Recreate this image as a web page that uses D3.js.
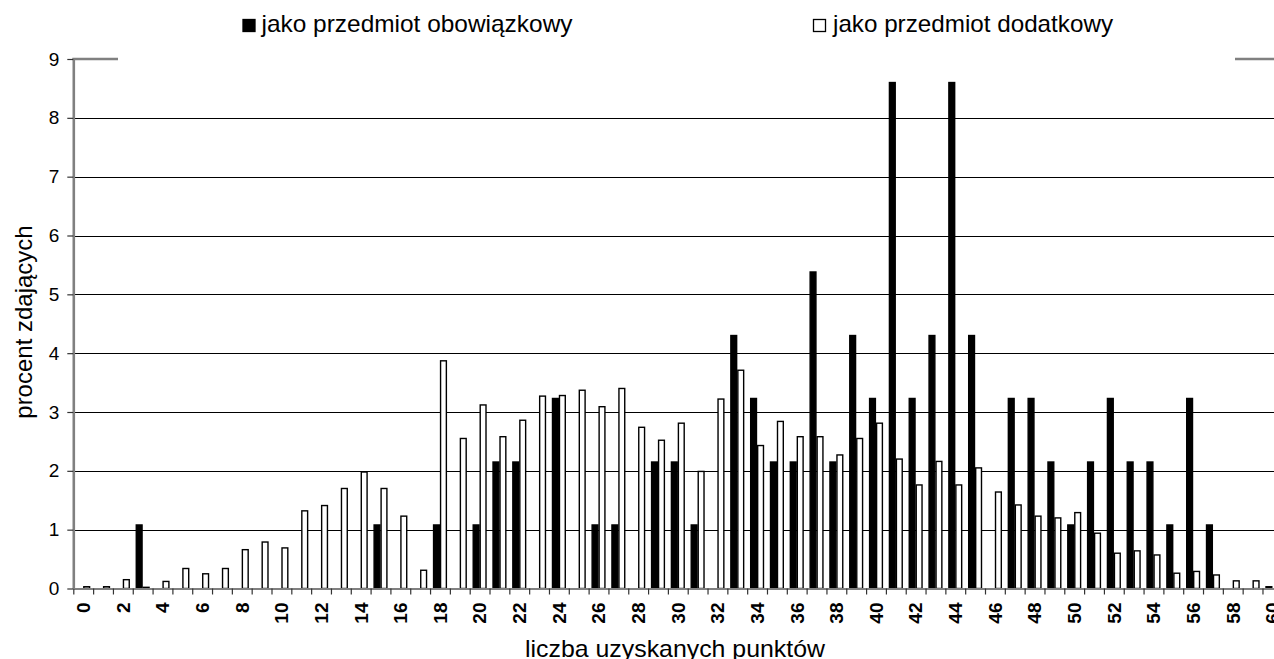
<!DOCTYPE html>
<html>
<head>
<meta charset="utf-8">
<script src="https://cdn.jsdelivr.net/npm/d3@7"></script>
<style>
  html, body { margin: 0; padding: 0; background: #fff; overflow: hidden; }
  svg { display: block; font-family: "Liberation Sans", Arial, sans-serif; }
</style>
</head>
<body>
<svg id="chart" width="1274" height="659"></svg>
<script>
// ---- data ----
const categories = [0,1,2,3,4,5,6,7,8,9,10,11,12,13,14,15,16,17,18,19,20,21,22,23,24,25,26,27,28,29,30,
  31,32,33,34,35,36,37,38,39,40,41,42,43,44,45,46,47,48,49,50,51,52,53,54,55,56,57,58,59,60];
const seriesNames = ["jako przedmiot obowiązkowy", "jako przedmiot dodatkowy"];
const obowiazkowy = [0,0,0,1.08,0,0,0,0,0,0,0,0,0,0,0,1.08,0,0,1.08,0,1.08,2.15,2.15,0,3.23,0,1.08,1.08,0,2.15,2.15,
  1.08,0,4.30,3.23,2.15,2.15,5.38,2.15,4.30,3.23,8.60,3.23,4.30,8.60,4.30,0,3.23,3.23,2.15,1.08,2.15,3.23,2.15,2.15,1.08,3.23,1.08,0,0,0.03];
const dodatkowy = [0.03,0.03,0.15,0.02,0.12,0.34,0.25,0.34,0.66,0.79,0.69,1.32,1.41,1.70,1.98,1.70,1.23,0.31,3.87,2.55,3.12,2.58,2.86,3.27,3.28,3.37,3.09,3.40,2.74,2.52,2.81,
  1.99,3.22,3.71,2.43,2.84,2.58,2.58,2.27,2.55,2.81,2.20,1.76,2.16,1.76,2.05,1.64,1.42,1.23,1.20,1.29,0.94,0.60,0.64,0.57,0.26,0.29,0.23,0.13,0.13,0];
const yTicks = [0,1,2,3,4,5,6,7,8,9];
const xTickLabels = [0,2,4,6,8,10,12,14,16,18,20,22,24,26,28,30,32,34,36,38,40,42,44,46,48,50,52,54,56,58,60];
const yTitle = "procent zdających";
const xTitle = "liczba uzyskanych punktów";

// ---- layout ----
const svg = d3.select("#chart");
const plotL = 73.3, plotR = 1282.3, plotT = 59, plotB = 588.5;
const x = d3.scaleBand().domain(categories).range([plotL, plotR]).padding(0);
const xEdge = d3.scaleLinear().domain([0, categories.length]).range([plotL, plotR]);
const y = d3.scaleLinear().domain([0, 9]).range([plotB, plotT]);
const barW = 7;
const series = d3.scaleBand().domain(seriesNames).range([0, barW * 2]);

// gridlines
svg.append("g").selectAll("line").data(yTicks.filter(d => d > 0 && d < 9)).join("line")
  .attr("x1", plotL).attr("x2", 1274)
  .attr("y1", d => Math.round(y(d)) + 0.5).attr("y2", d => Math.round(y(d)) + 0.5)
  .attr("stroke", "#000").attr("stroke-width", 1);

// top border fragments (grey)
const topBorder = [[plotL - 1, 118], [1235, 1274]];
svg.append("g").selectAll("line").data(topBorder).join("line")
  .attr("x1", d => d[0]).attr("x2", d => d[1])
  .attr("y1", y(9)).attr("y2", y(9))
  .attr("stroke", "#808080").attr("stroke-width", 2.6);

// bars
const rows = categories.map((c, i) => ({ c, vals: [obowiazkowy[i], dodatkowy[i]] }));
const groups = svg.append("g").selectAll("g").data(rows).join("g")
  .attr("transform", d => `translate(${x(d.c) + x.bandwidth() / 2 - barW},0)`);
groups.selectAll("rect")
  .data(d => d.vals.map((v, k) => ({ v, k })).filter(e => e.v > 0))
  .join("rect")
  .attr("x", e => series(seriesNames[e.k]) + 0.6)
  .attr("width", series.bandwidth() - 1.2)
  .attr("y", e => y(e.v))
  .attr("height", e => y(0) - y(e.v))
  .attr("fill", e => e.k === 0 ? "#000" : "#fff")
  .attr("stroke", "#000")
  .attr("stroke-width", 1.4);

// x axis: boundary ticks
const xTickG = svg.append("g").attr("transform", `translate(0,${plotB})`)
  .call(d3.axisBottom(xEdge).tickValues(d3.range(0, categories.length + 1)).tickSize(6).tickSizeOuter(0).tickFormat(""));
xTickG.select(".domain").attr("stroke", "#808080").attr("stroke-width", 2.2);
xTickG.selectAll(".tick line").attr("stroke", "#333").attr("stroke-width", 1.2);

// x axis labels
const xLab = svg.append("g").attr("transform", `translate(0,${plotB})`)
  .call(d3.axisBottom(x).tickValues(xTickLabels).tickSize(0));
xLab.select(".domain").remove();
xLab.selectAll("text")
  .attr("transform", "rotate(-90)")
  .attr("x", -14).attr("y", 0).attr("dy", "0.36em")
  .attr("text-anchor", "end")
  .attr("font-size", 19).attr("font-weight", "bold")
  .attr("font-family", '"Liberation Sans", Arial, sans-serif')
  .attr("fill", "#000");

// y axis
const yAx = svg.append("g").attr("transform", `translate(${plotL},0)`)
  .call(d3.axisLeft(y).tickValues(yTicks).tickSize(6).tickPadding(8).tickSizeOuter(0));
yAx.select(".domain").attr("stroke", "#808080").attr("stroke-width", 2.6);
yAx.selectAll(".tick line").attr("stroke", "#333").attr("stroke-width", 1.2);
yAx.selectAll("text").attr("font-size", 19)
  .attr("font-family", '"Liberation Sans", Arial, sans-serif').attr("fill", "#000");

// axis titles
svg.append("text").attr("transform", "translate(32,322) rotate(-90)")
  .attr("text-anchor", "middle").attr("font-size", 24).attr("fill", "#000").text(yTitle);
svg.append("text").attr("x", 675).attr("y", 657)
  .attr("text-anchor", "middle").attr("font-size", 24).attr("fill", "#000")
  .attr("textLength", 300).attr("lengthAdjust", "spacingAndGlyphs").text(xTitle);

// legend
const legendPos = [{ sx: 243, tx: 261.5, w: 311 }, { sx: 813.5, tx: 833, w: 280 }];
const leg = svg.append("g").selectAll("g").data(seriesNames).join("g");
leg.append("rect")
  .attr("x", (d, i) => legendPos[i].sx).attr("y", 19.5).attr("width", 12).attr("height", 12)
  .attr("fill", (d, i) => i === 0 ? "#000" : "#fff").attr("stroke", "#000").attr("stroke-width", 1.3);
leg.append("text")
  .attr("x", (d, i) => legendPos[i].tx).attr("y", 31.5)
  .attr("font-size", 24).attr("fill", "#000")
  .attr("textLength", (d, i) => legendPos[i].w).attr("lengthAdjust", "spacingAndGlyphs")
  .text(d => d);
</script>
</body>
</html>
